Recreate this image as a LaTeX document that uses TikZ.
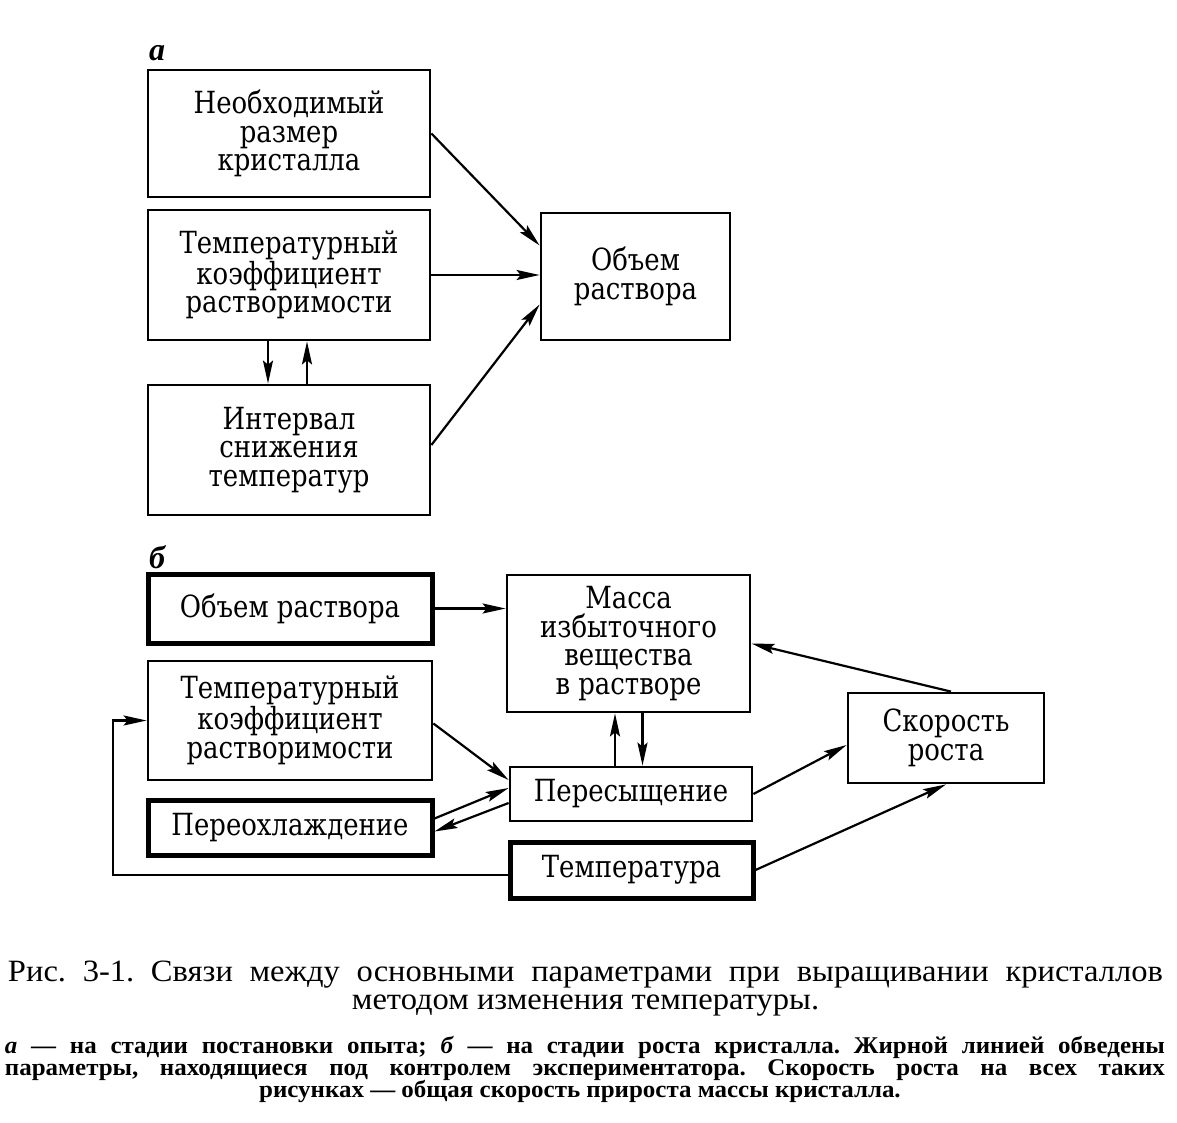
\documentclass[tikz,border=0pt]{standalone}
\usepackage{fontspec}
\setmainfont{Liberation Serif}
\newfontfamily\boxfont[FakeStretch=0.85]{DejaVu Serif}
\newfontfamily\capfont[FakeStretch=1.05]{Liberation Serif}
\newfontfamily\smallcapfont[FakeStretch=1.04]{Liberation Serif}
\usetikzlibrary{arrows.meta,calc}
\frenchspacing
\tikzset{
  box/.style={draw, line width=2.8pt, inner sep=0pt, align=center,
    font=\boxfont\fontsize{30.5}{28.5}\selectfont},
  thickbox/.style={box, line width=5pt},
  arr/.style={line width=2.2pt, -{Stealth[length=23pt,width=10pt,inset=4pt]}},
  lbl/.style={font=\bfseries\itshape\fontsize{32}{32}\selectfont, inner sep=0pt},
  capa/.style={font=\capfont\fontsize{31}{31}\selectfont, inner sep=0pt, anchor=base},
  capb/.style={font=\smallcapfont\bfseries\fontsize{24}{24}\selectfont, inner sep=0pt, anchor=base}
}
\begin{document}
\begin{tikzpicture}[x=1pt,y=-1pt]
\useasboundingbox[fill=white] (0,0) rectangle (1177,1123);
% part a
\node[lbl] (la) at (157,53) {а};
\node[box, minimum width=282pt, minimum height=127pt] (A1) at (289,133.5) {Необходимый\\размер\\кристалла};
\node[box, minimum width=282pt, minimum height=130pt] (A2) at (289,275) {Температурный\\коэффициент\\растворимости};
\node[box, minimum width=282pt, minimum height=130pt] (A3) at (289,450) {Интервал\\снижения\\температур};
\node[box, minimum width=189pt, minimum height=127pt] (A4) at (635.5,276.5) {Объем\\раствора};
\draw[arr] (A1.east) -- ([yshift=31pt]A4.west);
\draw[arr] (A2.east) -- (A2.east -| A4.west);
\draw[arr] ([yshift=5pt]A3.east) -- ([yshift=-28pt]A4.west);
\draw[arr] ([xshift=-21pt]A2.south) -- ([xshift=-21pt]A2.south |- A3.north);
\draw[arr] ([xshift=18pt]A3.north) -- ([xshift=18pt]A3.north |- A2.south);
% part b
\node[lbl] (lb) at (157,557) {б};
\node[thickbox, minimum width=284pt, minimum height=69pt] (B1) at (290,608.5) {Объем раствора};
\node[box, minimum width=243pt, minimum height=137pt] (B2) at (628.5,643.5) {Масса\\избыточного\\вещества\\в растворе};
\node[box, minimum width=284pt, minimum height=119pt] (B3) at (290,720.5) {Температурный\\коэффициент\\растворимости};
\node[box, minimum width=242pt, minimum height=54pt] (B4) at (631,794) {Пересыщение};
\node[thickbox, minimum width=284pt, minimum height=55pt] (B5) at (290,827.5) {Переохлаждение};
\node[thickbox, minimum width=243pt, minimum height=56pt] (B6) at (631.5,870) {Температура};
\node[box, minimum width=196pt, minimum height=90pt] (B7) at (946,738) {Скорость\\роста};
\coordinate (lp) at (113,875);
\draw[arr] (B1.east) -- (B1.east -| B2.west);
\draw[arr] ([xshift=5pt]B7.north) -- (B2.east);
\draw[arr] ([yshift=-3pt]B3.east) -- ([yshift=14pt]B4.west);
\draw[arr] ([yshift=9pt]B5.east) -- ([yshift=6pt]B4.west);
\draw[arr] ([yshift=-9pt]B4.west) -- ([yshift=-4pt]B5.east);
\draw[arr] ([xshift=-16pt]B4.north) -- ([xshift=-16pt]B4.north |- B2.south);
\draw[arr] ([xshift=14pt]B2.south) -- ([xshift=14pt]B2.south |- B4.north);
\draw[arr] (B4.east) -- ([yshift=-7pt]B7.west);
\draw[arr] (B6.east) -- (B7.south);
\draw[arr] ([yshift=-5pt]B6.west) -- ([yshift=-5pt]B6.west -| lp) |- (B3.west);
% captions
\node[capa] (c1) at (585.5,981) {\makebox[1155pt][s]{Рис. 3-1. Связи между основными параметрами при выращивании кристаллов}};
\node[capa] (c2) at (585.5,1009) {методом изменения температуры.};
\node[capb] (c3) at (585,1053) {\makebox[1160pt][s]{\textit{а} — на стадии постановки опыта; \textit{б} — на стадии роста кристалла. Жирной линией обведены}};
\node[capb] (c4) at (585,1075) {\makebox[1160pt][s]{параметры, находящиеся под контролем экспериментатора. Скорость роста на всех таких}};
\node[capb] (c5) at (580,1097) {рисунках — общая скорость прироста массы кристалла.};
\end{tikzpicture}
\end{document}
